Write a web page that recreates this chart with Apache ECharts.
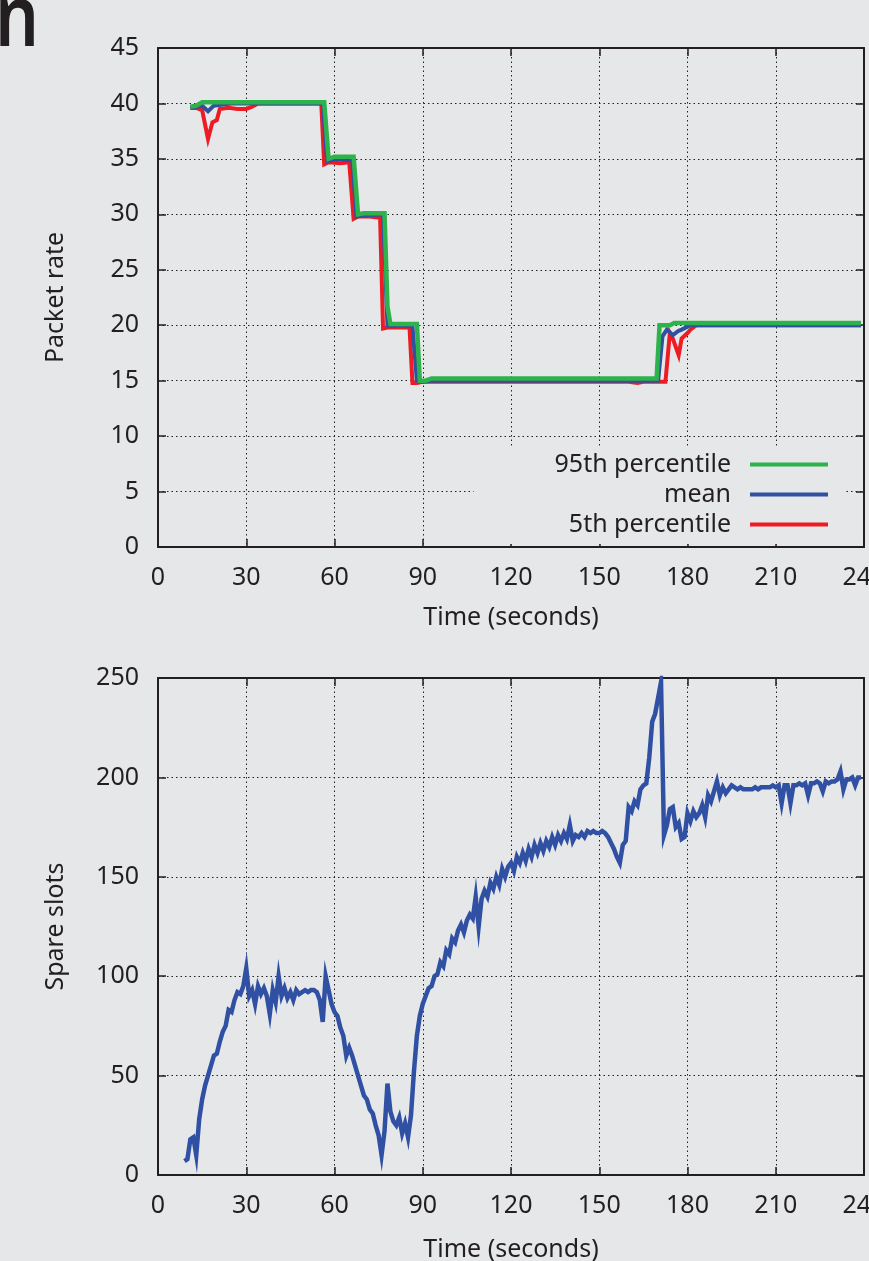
<!DOCTYPE html>
<html>
<head>
<meta charset="utf-8">
<script src="https://cdn.jsdelivr.net/npm/echarts@6/dist/echarts.min.js"></script>
<style>
html, body { margin: 0; padding: 0; background: #e6e7e9; }
#chart { width: 869px; height: 1261px; }
</style>
</head>
<body>
<div id="chart"></div>
<script>
// 上图：发包速率（秒, 值）
const p95Time = [11, 13, 15, 56.5, 58, 60, 66.5, 68, 70, 77, 78, 79, 81, 88, 89, 91, 93, 169.5, 170.5, 174, 175.5, 239];
const p95Rate = [39.7, 39.8, 40.1, 40.1, 35.0, 35.2, 35.2, 30.0, 30.1, 30.1, 21.7, 20.1, 20.1, 20.1, 15.0, 15.0, 15.2, 15.2, 20.0, 20.0, 20.2, 20.2];

const meanTime = [11, 13, 15, 17, 19, 22, 25, 56, 57.5, 59, 60, 66, 67.5, 70, 76.5, 78, 80, 82, 86.5, 88, 90, 93, 170, 171.5, 173, 175, 177, 178, 181, 239];
const meanRate = [39.6, 39.7, 39.8, 39.3, 39.8, 39.9, 40.0, 40.0, 34.8, 34.9, 35.0, 34.9, 29.8, 29.9, 30.0, 20.0, 19.9, 20.0, 19.9, 15.0, 14.9, 15.0, 15.0, 19.0, 19.6, 19.1, 19.5, 19.6, 20.0, 20.0];

const p5Time = [11, 13, 15, 17, 18.5, 20, 21, 24, 27, 30, 32, 34, 55.5, 56.5, 58, 62, 65, 66.5, 68, 72, 75.5, 76.5, 78, 85.5, 86.5, 88, 90, 160, 163, 165, 172.5, 174, 175, 177, 178, 180, 181, 183, 239];
const p5Rate = [39.6, 39.6, 39.4, 36.8, 38.3, 38.5, 39.5, 39.6, 39.5, 39.5, 39.7, 40.0, 40.0, 34.5, 34.7, 34.6, 34.7, 29.6, 29.8, 29.8, 29.7, 19.7, 19.8, 19.8, 14.8, 14.8, 14.9, 14.9, 14.8, 14.9, 14.9, 19.3, 18.8, 17.3, 18.8, 19.3, 19.6, 20.0, 20.0];

// 下图：空闲时隙，从第 9 秒开始每秒一个采样
const slotStart = 9;
const spareSlots = [
  7, 8, 18, 19, 10, 28, 38, 45, 50, 55,
  60, 61, 67, 72, 75, 83, 82, 88, 92, 91,
  95, 104, 90, 93, 86, 95, 91, 94, 90, 81,
  93, 87, 100, 90, 94, 89, 92, 88, 93, 91,
  92, 93, 92, 93, 93, 92, 88, 77, 100, 93,
  86, 82, 80, 74, 70, 60, 64, 60, 55, 50,
  45, 40, 38, 33, 31, 25, 20, 10, 22, 46,
  32, 27, 25, 29, 21, 26, 19, 30, 52, 70,
  80, 86, 90, 94, 95, 100, 101, 107, 105, 113,
  111, 119, 117, 123, 126, 122, 128, 131, 129, 140,
  125, 139, 143, 140, 147, 144, 150, 146, 154, 150,
  155, 157, 153, 160, 157, 162, 158, 164, 160, 166,
  162, 167, 163, 168, 165, 170, 166, 171, 168, 172,
  169, 176, 168, 171, 170, 172, 170, 173, 172, 173,
  172, 172, 173, 172, 170, 167, 164, 160, 157, 166,
  168, 185, 183, 188, 186, 194, 196, 197, 210, 228,
  232, 240, 248, 171, 176, 184, 185, 175, 177, 169,
  170, 182, 178, 183, 180, 182, 186, 180, 191, 188,
  193, 198, 191, 195, 192, 194, 196, 195, 194, 195,
  194, 194, 194, 194, 195, 194, 195, 195, 195, 195,
  196, 195, 196, 187, 196, 196, 187, 196, 196, 197,
  196, 197, 191, 197, 197, 198, 197, 193, 198, 197,
  198, 198, 199, 203, 194, 199, 199, 200, 196, 200, 200
];

const legendNames = ['95th percentile', 'mean', '5th percentile'];

const bg = '#e6e7e9';
const ink = '#231f20';
const font = 'Noto Sans';

function pairs(ts, vs) {
  return ts.map((t, i) => [t, vs[i]]);
}

// 四边都画坐标轴（gnuplot 风格的镜像刻度）
function xAxes(gridIndex, nameGap) {
  return [
    {
      gridIndex: gridIndex,
      type: 'value', min: 0, max: 240, interval: 30,
      name: 'Time (seconds)', nameLocation: 'middle', nameGap: nameGap,
      nameTextStyle: { fontSize: 25, color: ink, fontFamily: font },
      axisLine: { onZero: false, lineStyle: { color: ink, width: 2 } },
      axisTick: { inside: true, length: 8, lineStyle: { color: ink, width: 1.5 } },
      axisLabel: { fontSize: 25, color: ink, fontFamily: font, margin: 18, showMaxLabel: true, showMinLabel: true, hideOverlap: false },
      splitLine: { show: true, lineStyle: { color: ink, width: 1, type: [1.5, 3] } }
    },
    {
      gridIndex: gridIndex, position: 'top',
      type: 'value', min: 0, max: 240, interval: 30,
      axisLine: { onZero: false, lineStyle: { color: ink, width: 2 } },
      axisTick: { inside: true, length: 8, lineStyle: { color: ink, width: 1.5 } },
      axisLabel: { show: false },
      splitLine: { show: false }
    }
  ];
}

function yAxes(gridIndex, name, max, interval) {
  return [
    {
      gridIndex: gridIndex,
      type: 'value', min: 0, max: max, interval: interval,
      name: name, nameLocation: 'middle', nameGap: 90, nameRotate: 90,
      nameTextStyle: { fontSize: 25, color: ink, fontFamily: font },
      axisLine: { onZero: false, lineStyle: { color: ink, width: 2 } },
      axisTick: { inside: true, length: 8, lineStyle: { color: ink, width: 1.5 } },
      axisLabel: { fontSize: 25, color: ink, fontFamily: font, margin: 19, showMaxLabel: true, showMinLabel: true, hideOverlap: false },
      splitLine: { show: true, lineStyle: { color: ink, width: 1, type: [1.5, 3] } }
    },
    {
      gridIndex: gridIndex, position: 'right',
      type: 'value', min: 0, max: max, interval: interval,
      axisLine: { onZero: false, lineStyle: { color: ink, width: 2 } },
      axisTick: { inside: true, length: 8, lineStyle: { color: ink, width: 1.5 } },
      axisLabel: { show: false },
      splitLine: { show: false }
    }
  ];
}

function lineSeries(name, data, color, width, xi, yi) {
  return {
    name: name,
    type: 'line',
    xAxisIndex: xi,
    yAxisIndex: yi,
    data: data,
    showSymbol: false,
    symbol: 'none',
    itemStyle: { color: color },
    lineStyle: { color: color, width: width, join: 'miter' },
    emphasis: { disabled: true }
  };
}

let chartConfig = {
  backgroundColor: bg,
  animation: false,
  graphic: [
    {
      type: 'text',
      x: -5, y: 22,
      scaleX: 0.82,
      style: { text: 'n', fontSize: 84, fontWeight: 600, fontFamily: font, fill: ink, verticalAlign: 'middle' }
    }
  ],
  grid: [
    { left: 158, right: 5, top: 48, height: 499, outerBoundsMode: 'none', containLabel: false },
    { left: 158, right: 5, top: 678, height: 497, outerBoundsMode: 'none', containLabel: false }
  ],
  xAxis: xAxes(0, 58).concat(xAxes(1, 62)),
  yAxis: yAxes(0, 'Packet rate', 45, 5).concat(yAxes(1, 'Spare slots', 250, 50)),
  legend: {
    data: legendNames,
    orient: 'vertical',
    align: 'right',
    right: 23,
    top: 448,
    padding: [4, 18, 7, 81],
    backgroundColor: bg,
    icon: 'rect',
    itemWidth: 78,
    itemHeight: 4,
    itemGap: 5,
    selectedMode: false,
    textStyle: { fontSize: 25, color: ink, fontFamily: font, padding: [0, 14, 0, 0] }
  },
  series: [
    lineSeries('5th percentile', pairs(p5Time, p5Rate), '#ed1c24', 4, 0, 0),
    lineSeries('mean', pairs(meanTime, meanRate), '#3050a0', 4, 0, 0),
    lineSeries('95th percentile', pairs(p95Time, p95Rate), '#2eb24b', 4.5, 0, 0),
    lineSeries('spare', spareSlots.map((v, i) => [slotStart + i, v]), '#3050a3', 4.5, 2, 2)
  ]
};

let chart = echarts.init(document.getElementById('chart'));
chart.setOption(chartConfig);
window.addEventListener('resize', function () {
  chart.resize();
});
</script>
</body>
</html>
